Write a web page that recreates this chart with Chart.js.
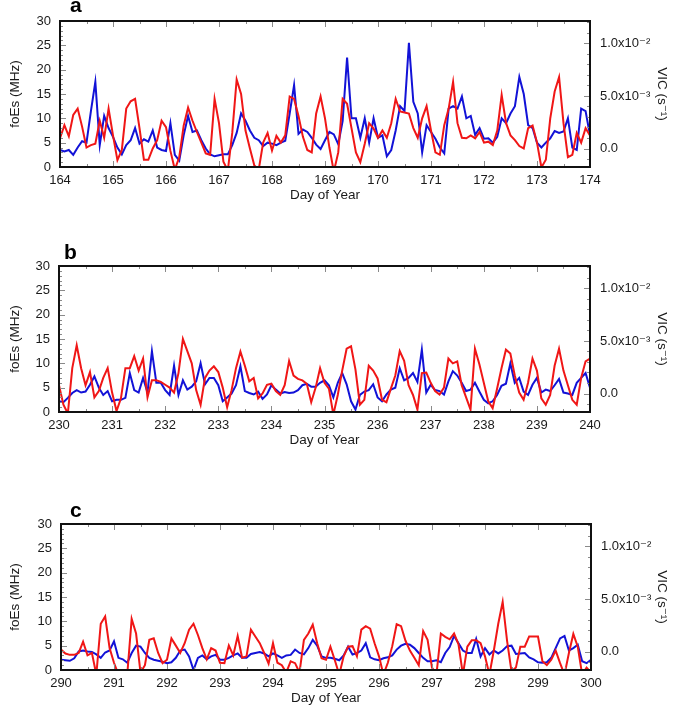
<!DOCTYPE html>
<html><head><meta charset="utf-8">
<script src="https://cdn.jsdelivr.net/npm/chart.js@4"></script>
<style>
html,body{margin:0;padding:0;background:#fff;}
#wrap{position:relative;width:685px;height:715px;overflow:hidden;}
canvas{position:absolute;left:0;}
.lab{position:absolute;font:bold 21px "Liberation Sans",Arial,sans-serif;line-height:21px;color:#000;}
</style></head><body>
<div id="wrap">
<canvas id="ca" width="685" height="205" style="top:0px"></canvas>
<canvas id="cb" width="685" height="205" style="top:245px"></canvas>
<canvas id="cc" width="685" height="205" style="top:503px"></canvas>
<div class="lab" style="left:70px;top:-6px">a</div>
<div class="lab" style="left:64px;top:241px">b</div>
<div class="lab" style="left:70px;top:499px">c</div>
</div>
<script>
// ---- data (2-hourly samples, 12 per day) ----
const samplesPerDay = 12;
const startDays = [164, 230, 290];
const foesTicks = [0, 5, 10, 15, 20, 25, 30];
const vicTicks = [0, 5, 10];               // units of 1e-3 s^-1
const vicTickLabels = ["0.0", "5.0x10\u207B\u00B3", "1.0x10\u207B\u00B2"];

// foEs (MHz), panel a: days 164-174
const foEsA = [3.5,3.2,3.5,2.5,4.0,5.3,5.0,11.5,17.5,4.5,10.5,8.0,
6.2,4.0,2.6,4.5,5.5,8.0,4.8,5.7,5.2,7.5,4.0,3.5,
3.3,9.0,2.5,1.3,6.5,10.5,7.2,7.5,5.5,3.8,2.6,2.2,
2.4,2.6,2.6,4.5,7.0,11.0,9.5,7.5,6.0,5.5,4.3,5.0,
4.8,4.5,5.0,5.4,11.0,16.8,6.8,7.7,7.2,6.0,4.6,3.7,
5.5,7.2,6.7,4.7,9.5,22.5,10.0,10.0,6.0,10.0,5.0,10.0,
6.0,6.5,2.2,3.5,7.5,12.5,11.5,25.5,13.4,11.0,3.0,8.6,
7.2,5.8,4.0,2.8,12.0,12.5,12.0,14.5,10.0,10.5,6.6,8.0,
5.8,5.9,5.0,6.2,10.0,9.0,11.0,12.5,18.5,15.0,8.6,8.0,
5.0,4.0,5.0,5.9,7.4,7.0,7.3,10.0,4.0,3.5,12.0,11.5,6.5];
// VIC (1e-3 s^-1), panel a
const vicA = [0.97,2.22,1.16,3.2,3.8,2.08,0.09,0.32,0.46,2.64,1.02,3.8,
1.25,-1.11,-0.14,3.8,4.49,4.72,1.94,-1.07,-1.07,0,0.79,2.64,
2.04,-0.23,-2.0,-0.83,2.18,3.89,2.64,1.57,0.56,-0.46,-0.6,4.72,
2.41,-1.25,-2.1,1.48,6.57,5.19,1.71,0,-1.62,-2.0,0.56,1.48,
-0.19,1.2,0.56,1.25,4.95,4.72,3.1,1.11,-0.14,-0.37,3.33,4.95,
2.87,0.09,-2.2,-0.37,4.72,4.26,1.94,-0.37,-1.3,0.46,2.41,1.9,
1.02,1.71,1.02,2.41,4.72,3.52,3.43,3.33,1.94,1.02,2.87,4.03,
1.71,-0.37,-0.6,2.22,3.8,6.34,2.41,1.02,0.97,1.25,0.97,1.57,
0.56,0.65,0.32,1.71,5.09,2.41,1.25,0.79,0.23,0,1.94,2.18,
0.56,-1.8,-1.07,2.87,5.42,6.8,2.41,-0.83,-0.6,1.48,0.56,1.94,1.25];

// panel b: days 230-240
const foEsB = [2.2,2.0,2.9,3.9,4.5,4.0,4.2,5.6,7.3,5.0,3.5,4.3,
2.2,2.5,2.5,2.9,8.0,4.5,4.0,7.0,4.0,12.5,6.0,6.0,
4.5,3.5,9.5,3.5,6.5,4.6,5.2,6.3,10.0,5.7,7.0,7.0,
5.5,2.2,3.0,3.8,5.5,9.4,4.3,3.9,3.6,4.2,2.7,3.6,
5.5,4.6,3.8,4.1,3.9,4.0,4.5,5.5,5.8,5.2,5.2,6.0,
6.5,5.5,3.0,6.0,8.0,5.7,2.2,0.5,3.5,4.2,4.5,5.7,
3.0,2.2,3.6,4.6,5.0,9.0,6.5,7.0,8.0,6.2,12.8,4.0,
5.6,4.5,4.3,3.6,6.3,8.4,7.5,6.0,4.3,4.6,6.0,4.2,
2.5,1.8,2.2,3.5,5.4,5.8,10.0,6.0,7.0,4.2,3.5,5.6,
7.0,4.0,4.6,4.3,5.5,6.8,4.0,3.8,3.5,6.0,7.0,8.0,5.0];
const vicB = [0.79,-1.07,-1.9,2.41,4.58,2.41,0.79,2.04,-0.37,0.23,1.48,2.41,
0.09,-1.67,-0.46,2.41,2.41,3.56,2.18,3.33,-0.37,1.25,1.25,1.11,
0.83,0.56,0.09,1.94,5.19,4.03,2.87,0.32,-1.07,1.48,2.18,2.59,
2.04,0.56,-1.3,0.32,2.41,3.98,2.64,1.16,1.48,-0.46,0,0.83,
0.93,0.23,-0.14,0.79,3.1,1.71,1.39,1.25,0.93,-0.83,0.56,2.41,
1.02,0.46,-2.0,-0.14,2.18,4.26,4.49,2.27,-1.07,-0.6,2.64,2.18,
1.43,-0.6,-0.83,0.46,1.71,4.03,3.1,0.79,-0.14,-1.53,1.94,1.99,
1.02,0.23,-0.09,0.56,3.33,2.87,3.06,0.79,-0.37,-1.53,4.26,2.78,
1.02,-0.74,-1.39,0.46,2.41,4.17,3.8,1.71,0.09,-0.6,1.02,3.33,
2.18,-0.46,-1.07,-0.14,2.64,4.26,2.18,0.79,-0.6,-1.07,1.48,3.06,3.33];

// panel c: days 290-300
const foEsC = [2.1,2.0,1.9,2.4,3.8,4.0,3.8,3.7,3.2,2.5,3.6,4.0,
5.9,2.5,2.2,1.5,3.5,5.0,4.8,3.5,2.5,2.1,1.9,1.7,
1.4,1.6,2.5,4.0,4.2,2.8,0,2.5,3.0,2.2,2.8,3.1,
2.1,2.1,2.5,3.0,3.4,2.5,2.5,3.3,3.5,3.7,3.4,2.8,
3.4,3.0,2.5,3.0,3.1,4.2,3.5,3.2,4.5,6.2,5.0,2.8,
2.5,2.5,2.3,2.0,3.0,4.8,3.2,3.5,4.0,5.5,2.6,2.2,
2.0,2.4,2.6,3.0,4.2,5.0,5.4,5.2,4.5,3.5,2.5,1.8,
1.8,2.0,1.6,3.5,4.7,7.0,5.5,4.0,3.5,3.5,6.4,2.8,
4.5,3.2,4.0,3.4,4.0,4.9,5.0,3.3,3.4,3.5,2.6,2.2,
1.6,1.5,1.6,2.5,4.5,6.5,7.0,4.0,4.5,5.2,1.8,1.4,2.1];
const vicC = [0.18,-0.19,-0.32,-0.32,-0.14,0.93,-0.37,-0.14,-2.2,2.64,3.33,0.32,
-1.07,-2.2,-2.2,-2.2,3.1,1.71,-2.0,-1.3,1.11,1.25,-0.14,-1.11,
-0.79,1.25,0.56,-0.14,0.79,2.08,2.64,1.57,0.32,-0.74,0.32,0.09,
-1.07,-1.11,0.56,-0.37,1.48,-0.6,-0.46,2.08,1.43,0.79,-0.14,-1.16,
0.79,-1.07,-1.3,-2.0,-0.93,-1.11,-2.0,1.11,1.71,2.55,0.79,-0.65,
-0.79,0.46,-0.83,-2.2,-0.46,0.46,0.51,-0.46,2.08,2.41,2.18,0.79,
-0.46,-2.2,-1.07,0.51,2.59,2.41,1.02,0.09,-0.6,-1.3,1.94,1.11,
-1.53,-2.2,1.71,1.39,1.16,1.71,0.69,-2.2,0.46,1.06,1.06,0.79,
-0.46,-2.2,0.09,2.64,4.72,1.02,-1.9,-1.53,0.46,0.46,1.43,1.43,
1.43,-0.93,-1.3,-0.79,0.09,-1.11,-2.2,-0.14,1.67,0.46,-2.2,-1.53,-2.0];

// ---- drawing ----
const FONT = '"Liberation Sans", Arial, "DejaVu Sans", sans-serif';
const TXT = '#1a1a1a';

const frame = {
  id: 'frame',
  afterDatasetsDraw(chart) {
    const {ctx, chartArea: a, scales: {x, y, y1}} = chart;
    ctx.save();
    ctx.strokeStyle = '#8a8a8a';
    ctx.lineWidth = 1;
    const seg = (x0, y0, x1, y1_) => { ctx.beginPath(); ctx.moveTo(x0, y0); ctx.lineTo(x1, y1_); ctx.stroke(); };
    for (let v = y.min; v <= y.max; v += 1) {
      const p = Math.round(y.getPixelForValue(v)) + 0.5;
      seg(a.left, p, a.left + (v % 5 === 0 ? 6 : 3), p);
    }
    for (let v = Math.ceil(y1.min); v <= y1.max; v += 1) {
      const p = Math.round(y1.getPixelForValue(v)) + 0.5;
      seg(a.right, p, a.right - (v % 5 === 0 ? 6 : 3), p);
    }
    for (let k = 0; k <= 20; k++) {
      const d = x.min + k / 2;
      const p = Math.round(x.getPixelForValue(d)) + 0.5;
      const len = k % 2 === 0 ? 6 : 3;
      seg(p, a.top, p, a.top + len);
      seg(p, a.bottom, p, a.bottom - len);
    }
    ctx.strokeStyle = '#111';
    ctx.lineWidth = 2;
    ctx.strokeRect(a.left, a.top, a.right - a.left, a.bottom - a.top);
    ctx.restore();
  }
};

function panel(id, start, foes, vic, leftEdge, rightEdge) {
  const toXY = arr => arr.map((v, i) => ({x: start + i / samplesPerDay, y: v}));
  const days = Array.from({length: 11}, (_, k) => start + k);
  const tickFont = {family: FONT, size: 13};
  const titleFont = {family: FONT, size: 13.5};
  new Chart(document.getElementById(id), {
    type: 'line',
    data: {datasets: [
      {label: 'VIC', data: toXY(vic), yAxisID: 'y1', borderColor: 'rgb(240,22,22)', borderWidth: 2, pointRadius: 0, tension: 0},
      {label: 'foEs', data: toXY(foes), yAxisID: 'y', borderColor: 'rgb(18,18,215)', borderWidth: 2, pointRadius: 0, tension: 0}
    ]},
    options: {
      responsive: false, animation: false, devicePixelRatio: 1,
      layout: {padding: {top: 21, left: 0, right: 0, bottom: 0}},
      plugins: {legend: {display: false}, tooltip: {enabled: false}, title: {display: false}},
      scales: {
        x: {
          type: 'linear', min: start, max: start + 10,
          afterBuildTicks: s => { s.ticks = days.map(v => ({value: v})); },
          afterFit: s => { s.height = 38; },
          ticks: {font: tickFont, color: TXT, padding: 6, maxRotation: 0, autoSkip: false, callback: v => String(v)},
          grid: {display: false, drawTicks: false}, border: {display: false},
          title: {display: true, text: 'Day of Year', font: titleFont, color: TXT, padding: {top: 0, bottom: 2}}
        },
        y: {
          position: 'left', min: 0, max: 30,
          afterBuildTicks: s => { s.ticks = foesTicks.map(v => ({value: v})); },
          afterFit: s => { s.width = leftEdge; },
          ticks: {font: tickFont, color: TXT, padding: 9},
          grid: {display: false, drawTicks: false}, border: {display: false},
          title: {display: true, text: 'foEs (MHz)', font: titleFont, color: TXT, padding: {top: 7, bottom: 0}}
        },
        y1: {
          position: 'right', min: -1.76, max: 12.13,
          afterBuildTicks: s => { s.ticks = vicTicks.map(v => ({value: v})); },
          afterFit: s => { s.width = 685 - rightEdge; },
          ticks: {font: tickFont, color: TXT, padding: 10, callback: (v, i) => vicTickLabels[i]},
          grid: {display: false, drawTicks: false}, border: {display: false},
          title: {display: true, text: 'VIC (s\u207B\u00B9)', font: titleFont, color: TXT, padding: {top: 15, bottom: 0}}
        }
      }
    },
    plugins: [frame]
  });
}

panel('ca', startDays[0], foEsA, vicA, 60, 590);
panel('cb', startDays[1], foEsB, vicB, 59, 590);
panel('cc', startDays[2], foEsC, vicC, 61, 591);
</script>
</body></html>
